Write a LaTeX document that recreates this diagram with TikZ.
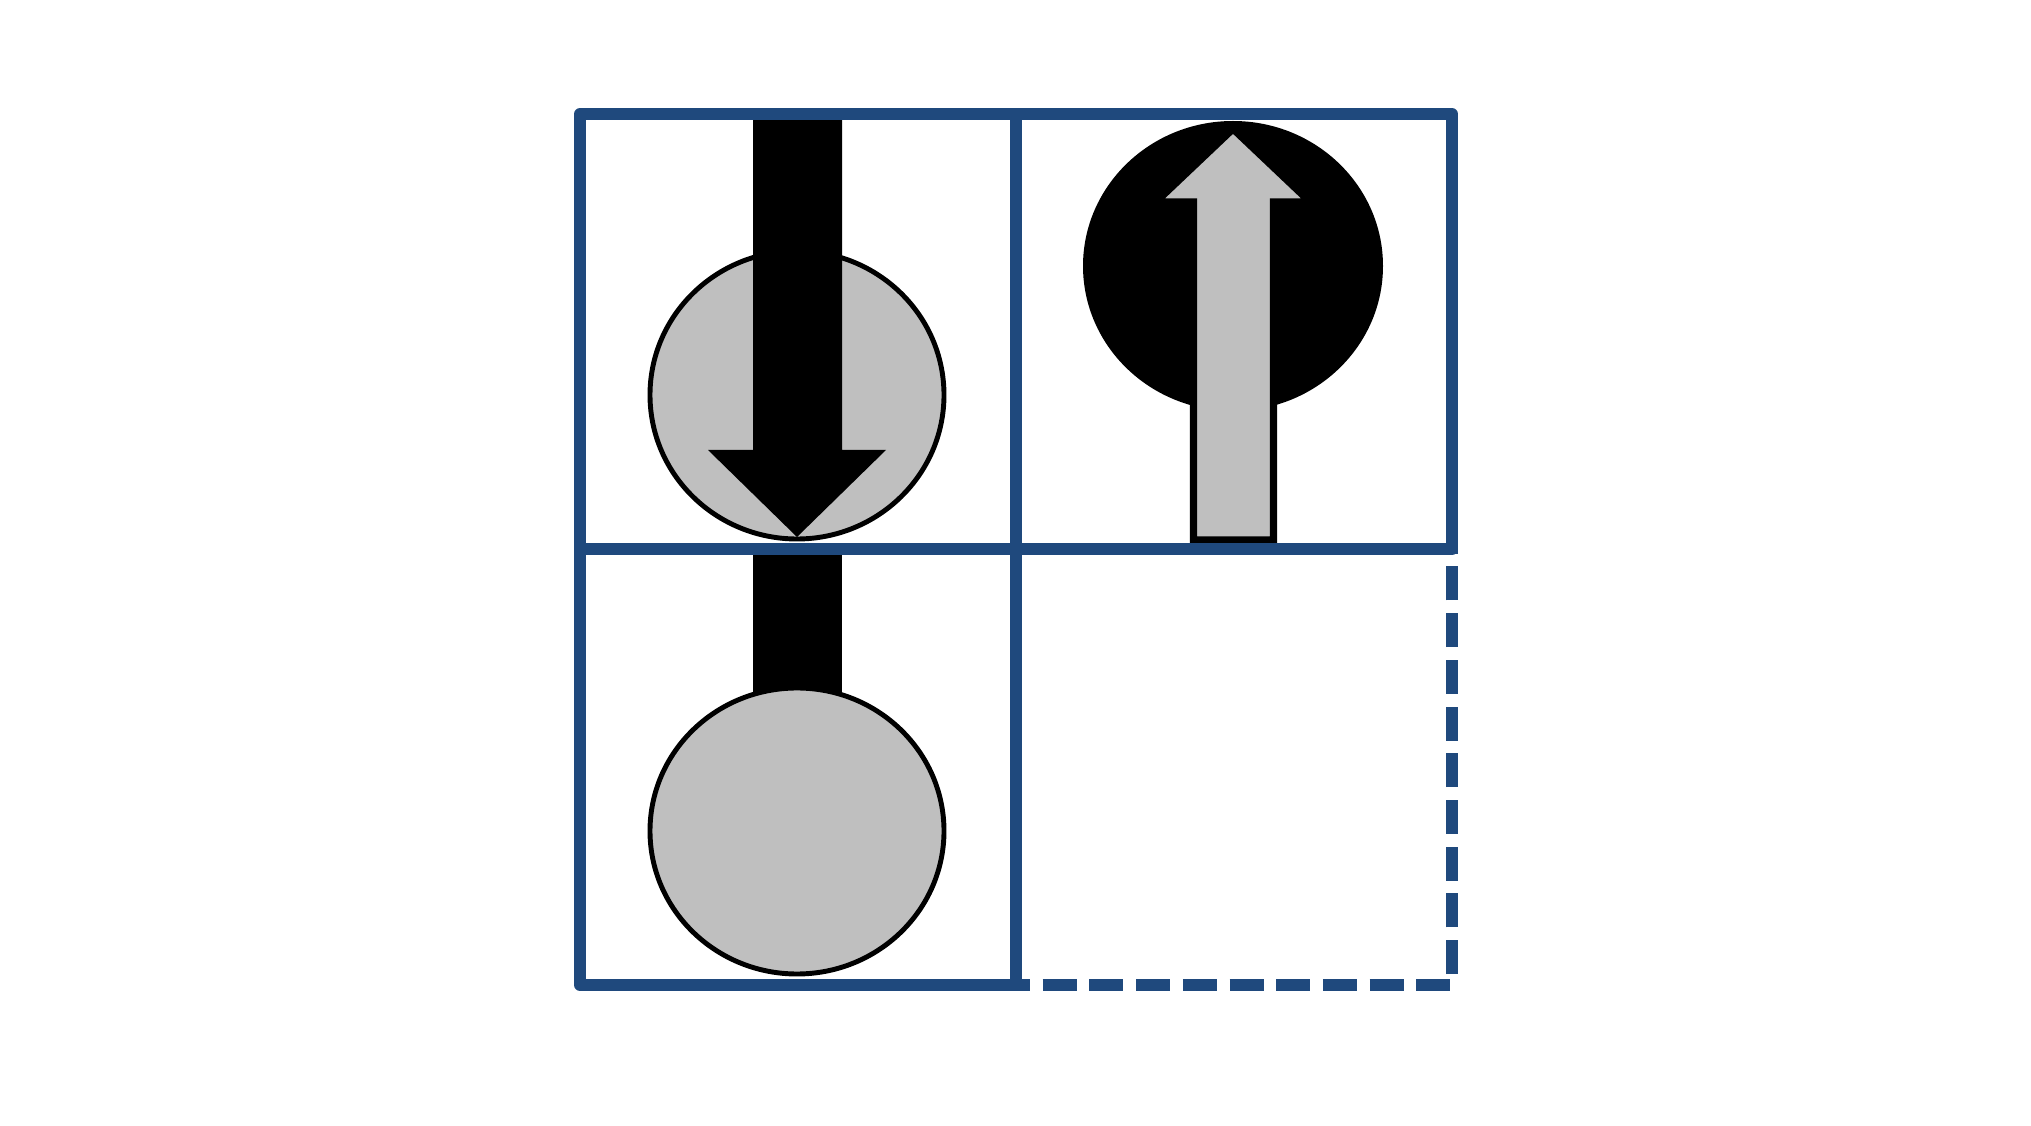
\documentclass[tikz,border=0pt]{standalone}
\usepackage{tikz}
\usetikzlibrary{calc}
\definecolor{gridblue}{HTML}{1F497D}
\definecolor{spingray}{HTML}{BFBFBF}

\begin{document}
\begin{tikzpicture}[
        gridline/.style={color=gridblue, line width=3.4pt, line join=round},
        ball/.style={line width=1.4pt, fill=spingray}
    ]
        \useasboundingbox (0, 0) rectangle (20.31, 11.25);
        % upper left cell
        \draw[ball] (7.97, 7.30) ellipse (1.47 and 1.44);
        \fill (7.53, 10.11) -- (8.42, 10.11) -- (8.42, 6.75) -- (8.86, 6.75) -- (7.97, 5.88) -- (7.08, 6.75) -- (7.53, 6.75) -- cycle;
        % lower left cell
        \fill (7.53, 5.76) rectangle (8.42, 4.2);
        \draw[ball] (7.97, 2.94) ellipse (1.47 and 1.43);
        % upper right cell
        \fill (12.33, 8.59) ellipse (1.50 and 1.45);
        \draw[line width=2pt, fill=spingray] (11.935, 5.85) -- (12.735, 5.85) -- (12.735, 9.23) -- (13.10, 9.23) -- (12.33, 9.96) -- (11.56, 9.23) -- (11.935, 9.23) -- cycle;
        % grid
        \draw[gridline] (10.16, 1.40) -- (5.80, 1.40) -- (5.80, 10.11) -- (14.52, 10.11) -- (14.52, 5.76) -- (5.80, 5.76);
        \draw[gridline] (10.16, 10.11) -- (10.16, 1.40);
        \draw[gridline, dash pattern=on 0.34cm off 0.127cm, dash phase=0.2cm] (10.16, 1.40) -- (14.52, 1.40) -- (14.52, 5.76);
    \end{tikzpicture}
\end{document}
